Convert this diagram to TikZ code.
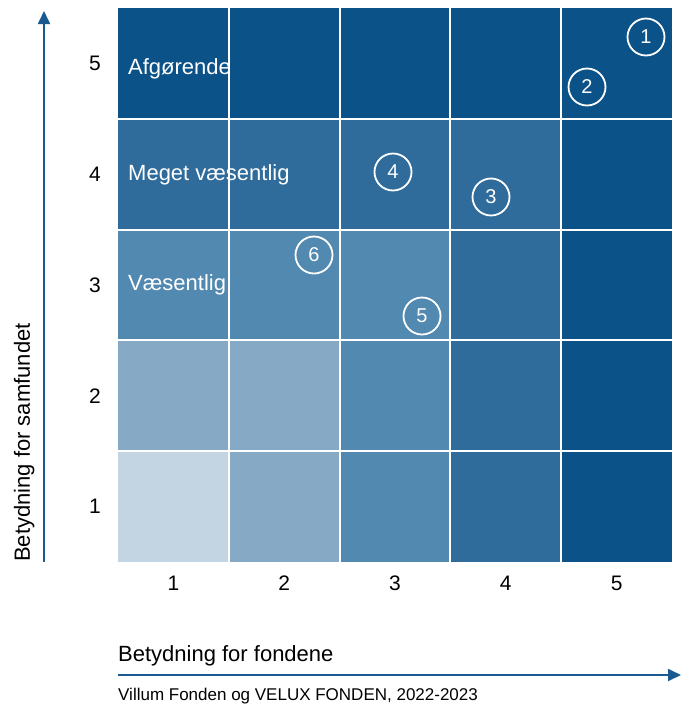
\documentclass[tikz,border=0pt]{standalone}
\usepackage{fontspec}
\setmainfont{Liberation Sans}
\usetikzlibrary{arrows.meta}
\definecolor{lvlA}{HTML}{0B5288}
\definecolor{lvlB}{HTML}{2F6C9B}
\definecolor{lvlC}{HTML}{5289B0}
\definecolor{lvlD}{HTML}{86A9C5}
\definecolor{lvlE}{HTML}{C3D5E3}
\definecolor{axisblue}{HTML}{1B5A91}

\begin{document}
\begin{tikzpicture}[x=1pt,y=-1pt,
	tick/.style={font=\fontsize{21}{25}\selectfont},
	celltext/.style={anchor=base west, inner sep=0pt, text=white, font=\fontsize{22}{26}\selectfont},
	axistext/.style={anchor=base west, inner sep=0pt, font=\fontsize{22}{26}\selectfont},
	marker/.style={circle, draw=white, line width=1.8pt, minimum size=37pt, inner sep=0pt, text=white, font=\fontsize{20}{22}\selectfont},
	axisarrow/.style={axisblue, line width=1.8pt, -{Triangle[length=13pt,width=12pt]}}]
\useasboundingbox (0,0) rectangle (681,705);

	%cells
	\foreach \cx/\ry/\tone in {1/1/lvlE, 2/1/lvlD, 3/1/lvlC, 4/1/lvlB, 5/1/lvlA,
		1/2/lvlD, 2/2/lvlD, 3/2/lvlC, 4/2/lvlB, 5/2/lvlA,
		1/3/lvlC, 2/3/lvlC, 3/3/lvlC, 4/3/lvlB, 5/3/lvlA,
		1/4/lvlB, 2/4/lvlB, 3/4/lvlB, 4/4/lvlB, 5/4/lvlA,
		1/5/lvlA, 2/5/lvlA, 3/5/lvlA, 4/5/lvlA, 5/5/lvlA}
		\fill[\tone] ({118+(\cx-1)*110.8},{562-\ry*110.8}) rectangle +(110.8,110.8);
	\foreach \i in {1,...,4} {
		\draw[white, line width=2pt] ({118+\i*110.8},8) -- ({118+\i*110.8},562);
		\draw[white, line width=2pt] (118,{562-\i*110.8}) -- (672,{562-\i*110.8});
	}

	%ticks
	\foreach \i in {1,...,5} {
		\node[tick] (x\i) at ({118+(\i-0.5)*110.8},583) {\i};
		\node[tick] (y\i) at (95,{562-(\i-0.5)*110.8}) {\i};
	}

	%levels
	\node[celltext] (afg) at (128,74) {Afgørende};
	\node[celltext] (meget) at (128,180) {Meget væsentlig};
	\node[celltext] (vaes) at (128,290) {Væsentlig};

	%markers
	\node[marker] (m1) at (646,37) {1};
	\node[marker] (m2) at (587,87) {2};
	\node[marker] (m3) at (491,197) {3};
	\node[marker] (m4) at (393,172) {4};
	\node[marker] (m5) at (422,316) {5};
	\node[marker] (m6) at (314,255) {6};

	%axis
	\coordinate (ystart) at (44,562); \coordinate (yend) at (44,11);
	\draw[axisarrow] (ystart) -- (yend);
	\coordinate (xstart) at (118,675); \coordinate (xend) at (681,675);
	\draw[axisarrow] (xstart) -- (xend);
	\node[axistext, rotate=90] (ylab) at (30,562) {Betydning for samfundet};
	\node[axistext] (xlab) at (118,661) {Betydning for fondene};
	\node[axistext, font=\fontsize{17}{20}\selectfont] (src) at (118,700) {Villum Fonden og VELUX FONDEN, 2022-2023};
\end{tikzpicture}
\end{document}
